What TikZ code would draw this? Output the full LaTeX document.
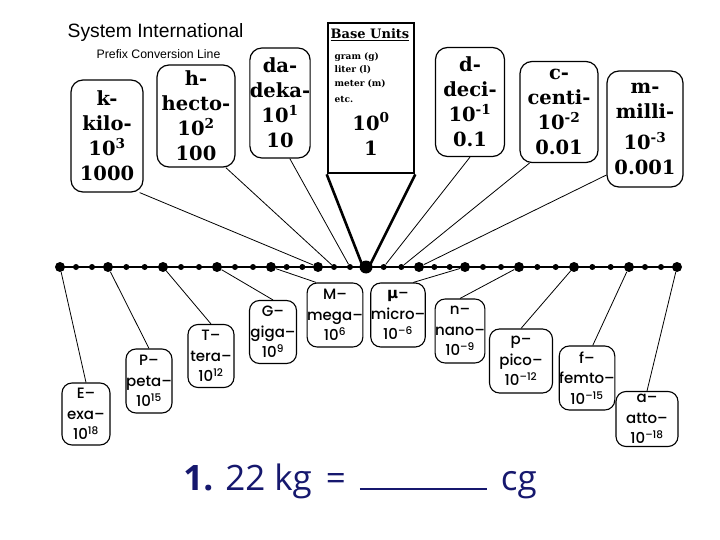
\documentclass[tikz,border=0pt]{standalone}
\usepackage{fontspec}
\usetikzlibrary{calc}
\newfontfamily\serifbox{DejaVu Serif}
\newfontfamily\sansbox{Poppins Medium}
\newfontfamily\greekbox{DejaVu Sans}
\newfontfamily\titlefont{Liberation Sans}
\newfontfamily\quizfont{Open Sans}
\definecolor{quizblue}{RGB}{22,24,110}

\begin{document}
\begin{tikzpicture}[x=1pt, y=-1pt, semithick,
    bigbox/.style={draw, rounded corners=12pt, line width=1.2pt, align=center, inner sep=0pt,
                   font=\serifbox\bfseries\fontsize{19.5}{25}\selectfont},
    smallbox/.style={draw, rounded corners=10pt, line width=1.1pt, align=center, inner sep=0pt,
                   font=\sansbox\fontsize{15}{20.5}\selectfont},
    bigdot/.style={circle, fill, inner sep=0pt, minimum size=10pt},
    smalldot/.style={circle, fill, inner sep=0pt, minimum size=6pt},
    link/.style={line width=0.8pt}]
  \useasboundingbox[fill=white] (0,0) rectangle (720,540);

  % title
  \node[anchor=base west, font=\titlefont\fontsize{19.3}{21}\selectfont] (title) at (64,38) {System International};
  \node[anchor=base west, font=\titlefont\fontsize{12.3}{14}\selectfont] (subtitle) at (93,59) {Prefix Conversion Line};

  % the line with its dots
  \foreach \x [count=\i from 0] in {60,108,163,217,271,318,366,419,465,519,574,629,677}
    \node[bigdot, minimum size={10pt+3pt*(\i==6)}] (b\i) at (\x,267) {};
  \foreach \i [evaluate=\i as \j using int(\i+1)] in {0,...,11} {
    \node[smalldot] (sa\i) at ($(b\i)!1/3!(b\j)$) {};
    \node[smalldot] (sb\i) at ($(b\i)!2/3!(b\j)$) {};
  }
  \draw[line width=2.4pt] (b0.center) -- (b12.center);

  % base units
  \node[draw, line width=2.6pt, minimum width=86pt, minimum height=150pt, inner sep=0pt] (base) at (371,98) {};
  \node[font=\serifbox\bfseries\fontsize{13}{15}\selectfont] (basehead) at (370,35) {\underline{Base Units}};
  \node[anchor=north west, align=left, font=\serifbox\bfseries\fontsize{9}{13.5}\selectfont] (baselist) at (331,49)
    {gram (g)\\liter (l)\\meter (m)\\[3pt]etc.};
  \node[align=center, font=\serifbox\bfseries\fontsize{19.5}{25}\selectfont] (baseval) at (371,134) {10\textsuperscript{0}\\1};
  \draw[line width=2.6pt] (base.south west) -- ([xshift=-3pt]b6.center) -- ([xshift=3pt]b6.center) -- (base.south east);

  % prefixes above the line
  \node[bigbox, minimum width=72pt, minimum height=112pt] (kilo) at (107,136) {k-\\kilo-\\10\textsuperscript{3}\\1000};
  \node[bigbox, minimum width=78pt, minimum height=102pt] (hecto) at (196,116) {h-\\hecto-\\10\textsuperscript{2}\\100};
  \node[bigbox, minimum width=58pt, minimum height=110pt] (deka) at (280,103) {da-\\deka-\\10\textsuperscript{1}\\10};
  \node[bigbox, minimum width=69pt, minimum height=109pt] (deci) at (470,102) {d-\\deci-\\10\textsuperscript{-1}\\0.1};
  \node[bigbox, minimum width=78pt, minimum height=101pt] (centi) at (559,112) {c-\\centi-\\10\textsuperscript{-2}\\0.01};
  \node[bigbox, minimum width=76pt, minimum height=116pt] (milli) at (645,129) {m-\\milli-\\[6pt]10\textsuperscript{-3}\\0.001};

  % prefixes below the line
  \node[smallbox, minimum width=48pt, minimum height=62pt] (exa) at (86,414) {E–\\exa–\\10\textsuperscript{18}};
  \node[smallbox, minimum width=46pt, minimum height=64pt] (peta) at (149,381) {P–\\peta–\\10\textsuperscript{15}};
  \node[smallbox, minimum width=46pt, minimum height=63pt] (tera) at (211,356) {T–\\tera–\\10\textsuperscript{12}};
  \node[smallbox, minimum width=47pt, minimum height=63pt] (giga) at (273,332) {G–\\giga–\\10\textsuperscript{9}};
  \node[smallbox, minimum width=45pt, minimum height=64pt] (mega) at (335,315) {M–\\mega–\\10\textsuperscript{6}};
  \node[smallbox, minimum width=48pt, minimum height=64pt] (micro) at (398,315) {{\greekbox\bfseries μ}–\\micro–\\10\textsuperscript{–6}};
  \node[smallbox, minimum width=46pt, minimum height=64pt] (nano) at (460,331) {n–\\nano–\\10\textsuperscript{–9}};
  \node[smallbox, minimum width=63pt, minimum height=64pt] (pico) at (521,361) {p–\\pico–\\10\textsuperscript{–12}};
  \node[smallbox, minimum width=55pt, minimum height=64pt] (femto) at (587,378) {f–\\femto–\\10\textsuperscript{–15}};
  \node[smallbox, minimum width=62pt, minimum height=55pt] (atto) at (647,419) {a–\\atto–\\10\textsuperscript{–18}};

  % connectors
  \draw[link] (kilo.-60) -- (b5);
  \draw[link] (hecto.-60) -- (sa5);
  \draw[link] (deka.-80) -- (sb5);
  \draw[link] (deci.south) -- (sa6);
  \draw[link] (centi.-120) -- (sb6);
  \draw[link] (milli.-130) -- (b7);
  \draw[link] (exa.north) -- (b0);
  \draw[link] (peta.north) -- (b1);
  \draw[link] (tera.north) -- (b2);
  \draw[link] (giga.north) -- (b3);
  \draw[link] (mega.120) -- (b4);
  \draw[link] (micro.65) -- (b8);
  \draw[link] (nano.north) -- (b9);
  \draw[link] (pico.north) -- (b10);
  \draw[link] (femto.80) -- (b11);
  \draw[link] (atto.north) -- (b12);

  % question
  \node[anchor=base west, inner sep=0pt, text=quizblue, font=\quizfont\fontsize{35}{38}\selectfont] (quiz) at (183,490)
    {\textbf{1.}\hspace{12pt}22 kg\hspace{14pt}=\hspace{14pt}\rule{127pt}{2.2pt}\hspace{14pt}cg};
\end{tikzpicture}
\end{document}
